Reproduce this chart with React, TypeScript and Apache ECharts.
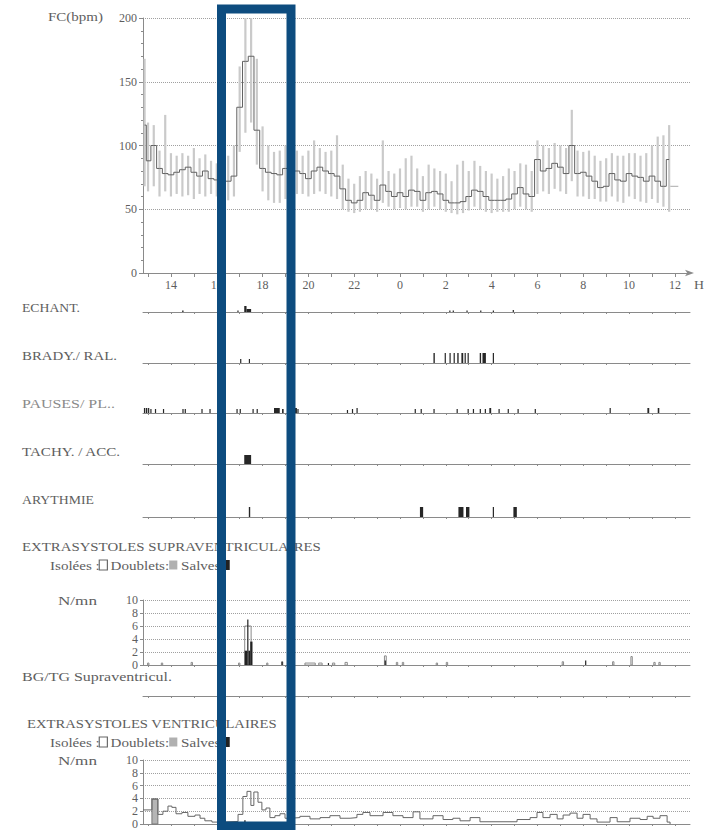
import React, { useEffect, useRef } from "react";
import * as echarts from "echarts";

// ---------- axis / time data ----------
const HOUR_MIN = 12.78;
const HOUR_MAX = 36.66;
const hourTicks = [13, 14, 15, 16, 17, 18, 19, 20, 21, 22, 23, 24, 25, 26, 27, 28, 29, 30, 31, 32, 33, 34, 35, 36];
const hourLabels = [14, 16, 18, 20, 22, 24, 26, 28, 30, 32, 34, 36];

// ---------- heart rate (bpm) ----------
const hrHours = [
  12.85, 13.0, 13.25, 13.5, 13.75, 14.0, 14.25, 14.5, 14.75, 15.0,
  15.25, 15.5, 15.75, 16.0, 16.25, 16.5, 16.75, 17.0, 17.25, 17.5,
  17.75, 18.0, 18.25, 18.5, 18.75, 19.0, 19.25, 19.5, 19.75, 20.0,
  20.25, 20.5, 20.75, 21.0, 21.25, 21.5, 21.75, 22.0, 22.25, 22.5,
  22.75, 23.0, 23.25, 23.5, 23.75, 24.0, 24.25, 24.5, 24.75, 25.0,
  25.25, 25.5, 25.75, 26.0, 26.25, 26.5, 26.75, 27.0, 27.25, 27.5,
  27.75, 28.0, 28.25, 28.5, 28.75, 29.0, 29.25, 29.5, 29.75, 30.0,
  30.25, 30.5, 30.75, 31.0, 31.25, 31.5, 31.75, 32.0, 32.25, 32.5,
  32.75, 33.0, 33.25, 33.5, 33.75, 34.0, 34.25, 34.5, 34.75, 35.0,
  35.25, 35.5, 35.75,
];
const hrMean = [
  116, 88, 100, 82, 78, 77, 79, 81, 83, 79,
  76, 80, 74, 73, 76, 72, 76, 130, 166, 170,
  112, 82, 79, 78, 77, 82, 80, 80, 78, 74,
  80, 83, 80, 78, 76, 66, 57, 55, 57, 63,
  61, 57, 69, 64, 60, 63, 60, 65, 64, 57,
  63, 64, 62, 57, 55, 55, 56, 60, 65, 64,
  60, 57, 57, 57, 58, 62, 67, 62, 60, 89,
  80, 82, 86, 83, 78, 100, 78, 79, 76, 72,
  67, 68, 78, 73, 72, 78, 76, 75, 72, 76,
  72, 68, 89,
];
const hrMin = [
  68, 64, 68, 60, 64, 60, 62, 60, 61, 58,
  62, 60, 62, 60, 60, 57, 60, 95, 110, 118,
  85, 64, 57, 55, 55, 58, 60, 62, 62, 60,
  62, 64, 62, 60, 58, 50, 48, 47, 48, 50,
  50, 48, 55, 52, 50, 51, 50, 52, 52, 48,
  50, 52, 50, 48, 47, 46, 47, 49, 52, 50,
  48, 47, 48, 48, 48, 50, 52, 50, 48, 62,
  64, 62, 66, 64, 62, 72, 60, 60, 58, 58,
  56, 56, 60, 56, 55, 60, 58, 56, 55, 58,
  55, 52, 48,
];
const hrMax = [
  168, 118, 116, 96, 124, 94, 92, 94, 92, 98,
  90, 93, 88, 86, 90, 92, 100, 162, 200, 200,
  168, 115, 100, 95, 96, 100, 95, 96, 92, 96,
  104, 98, 95, 96, 108, 85, 74, 70, 76, 80,
  78, 74, 104, 80, 78, 82, 90, 92, 82, 76,
  85, 82, 80, 78, 72, 85, 88, 80, 88, 84,
  80, 78, 74, 76, 82, 80, 86, 85, 80, 104,
  100, 98, 102, 100, 98, 128, 96, 95, 96, 92,
  88, 90, 94, 92, 92, 94, 94, 92, 94, 100,
  107, 108, 116,
];
const hrTailHours = [35.8, 36.15];
const hrTailValues = [68, 68];

// ---------- event rows: [start hour, end hour, mark height] ----------
const echantEvents = [
  [14.49, 14.55, 1.5], [16.9, 16.95, 1.5], [17.2, 17.3, 6], [17.3, 17.5, 3],
  [26.15, 26.2, 1.5], [26.3, 26.35, 1.5], [26.9, 26.95, 1.5], [27.5, 27.55, 1.5],
  [28.05, 28.1, 1.5], [28.92, 28.97, 2],
];
const bradyEvents = [
  [17.02, 17.07, 4], [17.4, 17.45, 4],
  [25.46, 25.52, 10], [25.95, 26.0, 10], [26.16, 26.21, 10], [26.34, 26.39, 10],
  [26.5, 26.56, 10], [26.68, 26.76, 10], [26.82, 26.87, 10], [26.95, 27.0, 10],
  [27.48, 27.54, 10], [27.6, 27.75, 10], [28.05, 28.1, 10],
];
const pauseEvents = [
  [12.82, 12.87, 5], [12.9, 12.97, 5], [13.0, 13.05, 5], [13.1, 13.14, 4],
  [13.3, 13.34, 4], [13.65, 13.69, 4], [14.5, 14.54, 4], [14.6, 14.64, 4],
  [15.33, 15.37, 4], [15.68, 15.72, 4], [16.86, 16.9, 4], [17.0, 17.04, 4],
  [17.56, 17.6, 4], [17.74, 17.78, 4], [18.5, 18.75, 5], [18.85, 18.92, 4],
  [19.38, 19.5, 5], [19.52, 19.56, 4], [21.68, 21.72, 3], [21.9, 21.94, 4],
  [22.1, 22.15, 5], [24.64, 24.68, 4], [24.9, 24.94, 4], [25.46, 25.5, 4],
  [26.47, 26.51, 4], [26.95, 26.99, 4], [27.18, 27.22, 4], [27.48, 27.52, 4],
  [27.7, 27.74, 4], [27.9, 27.98, 5], [28.3, 28.34, 4], [28.7, 28.74, 4],
  [29.13, 29.17, 4], [29.88, 29.92, 4], [33.15, 33.19, 5], [34.8, 34.88, 5],
  [35.25, 35.32, 5],
];
const tachyEvents = [[17.2, 17.5, 9]];
const arythmieEvents = [
  [17.4, 17.46, 10], [24.87, 25.01, 10], [26.55, 26.77, 10], [26.88, 27.03, 10],
  [28.05, 28.1, 10], [28.95, 29.1, 10],
];

// ---------- supraventricular extrasystoles (N/mn): [start, end, value] ----------
const essvIsolees = [
  [12.98, 13.04, 0.3], [13.58, 13.64, 0.3], [14.88, 14.94, 0.4], [16.95, 17.01, 0.3],
  [17.22, 17.5, 6], [18.18, 18.22, 0.3], [18.83, 18.88, 0.5], [19.85, 20.3, 0.3],
  [20.45, 20.6, 0.3], [21.05, 21.15, 0.3], [21.6, 21.7, 0.4], [23.32, 23.4, 1.4],
  [23.84, 23.9, 0.4], [24.1, 24.16, 0.4], [25.58, 25.64, 0.3], [26.02, 26.08, 0.4],
  [31.08, 31.14, 0.5], [33.28, 33.34, 0.5], [34.08, 34.14, 1.3], [35.08, 35.14, 0.4],
  [35.3, 35.36, 0.4],
];
const essvSalves = [
  [17.22, 17.33, 2.2], [17.33, 17.38, 7], [17.38, 17.46, 2.2], [17.46, 17.56, 3.6],
  [18.83, 18.87, 0.5], [20.85, 20.9, 0.3], [23.33, 23.38, 0.7], [32.08, 32.13, 0.7],
];

// ---------- ventricular extrasystoles (N/mn) ----------
const esvHours = [
  12.78, 13.17, 13.43, 13.65, 13.87, 14.04, 14.22, 14.48, 14.74, 15.05,
  15.27, 15.48, 15.79, 16.14, 16.93, 17.14, 17.32, 17.49, 17.62, 17.8,
  17.97, 18.15, 18.32, 18.54, 18.76, 18.98, 19.2, 19.63, 20.07, 20.51,
  20.94, 21.38, 21.82, 22.12, 22.38, 22.69, 23.26, 23.69, 24.13, 24.57,
  24.87, 25.44, 25.88, 26.31, 26.62, 27.06, 27.49, 29.11, 29.68, 29.98,
  30.24, 30.55, 30.86, 31.12, 31.42, 31.73, 31.99, 32.3, 32.6, 33.17,
  33.48, 34.04, 34.48, 34.79, 35.05, 35.35, 35.66, 35.79,
];
const esvCounts = [
  2.2, 3.9, 1.5, 2.0, 2.8, 2.6, 1.6, 1.8, 1.2, 1.4,
  0.9, 0.5, 0.3, 0.4, 1.5, 4.3, 5.1, 2.9, 5.0, 3.4,
  2.2, 2.5, 1.0, 1.3, 1.6, 0.9, 1.0, 1.2, 0.8, 1.0,
  1.3, 0.9, 1.0, 1.5, 1.8, 1.3, 1.8, 1.3, 1.0, 1.9,
  0.8, 1.3, 0.7, 0.9, 0.5, 1.0, 0.35, 0.7, 1.0, 1.8,
  1.0, 1.5, 0.8, 1.4, 1.7, 0.9, 1.5, 0.8, 0.3, 1.0,
  0.35, 0.9, 0.7, 1.2, 0.9, 1.3, 0.3, 0,
];
const esvDoublets = [[13.17, 13.43, 3.9]];
const esvSalves = [[17.2, 17.26, 0.6]];

// ---------- labels ----------
const rowLabels = ["ECHANT.", "BRADY./ RAL.", "PAUSES/ PL..", "TACHY. / ACC.", "ARYTHMIE"];
const legendText = "Isolées :{b|} Doublets:{g|} Salves{k|}";

const FONT_NAME = "Liberation Serif";
const FONT = "'Liberation Serif', 'DejaVu Serif', serif";
const TXT = "#5e5e5e";
const AX = "#8a8a8a";

const LEFT = 143;
const WIDTH = 547;

const gridDefs = [
  { top: 18, height: 255 }, // HR
  { top: 300, height: 12 }, // echant
  { top: 351, height: 12 }, // brady
  { top: 401, height: 12 }, // pauses
  { top: 452, height: 12 }, // tachy
  { top: 505, height: 12 }, // arythmie
  { top: 600, height: 65 }, // essv
  { top: 684, height: 12 }, // bg/tg
  { top: 760, height: 65 }, // esv
];

let measureCtx: CanvasRenderingContext2D | null = null;
function textWidth(text: string, size: number) {
  if (!measureCtx) measureCtx = document.createElement("canvas").getContext("2d");
  if (!measureCtx) return 0;
  measureCtx.font = `${size}px '${FONT_NAME}'`;
  return measureCtx.measureText(text).width;
}

function rectRenderer(fill: string, stroke: string | null, lw = 1) {
  return (params: any, api: any) => {
    const s = api.coord([api.value(0), api.value(2)]);
    const e = api.coord([api.value(1), 0]);
    const w = Math.max(e[0] - s[0], 1.2);
    return {
      type: "rect",
      shape: { x: s[0], y: s[1], width: w, height: e[1] - s[1] },
      style: stroke ? { fill, stroke, lineWidth: lw } : { fill },
    };
  };
}

function xAxisFor(i: number) {
  const isTop = i === 0;
  return {
    type: "value",
    gridIndex: i,
    min: HOUR_MIN,
    max: HOUR_MAX,
    axisLine: {
      show: true,
      lineStyle: { color: AX, width: 1 },
      symbol: isTop ? ["none", "arrow"] : ["none", "none"],
      symbolSize: [5, 9],
      symbolOffset: [0, 4],
    },
    axisTick: {
      show: true,
      length: isTop ? 4 : 2,
      customValues: hourTicks,
      lineStyle: { color: AX },
    },
    axisLabel: {
      show: isTop,
      customValues: hourLabels,
      formatter: (v: number) => String(Math.round(v) % 24),
      color: TXT,
      fontSize: 12,
      fontFamily: FONT,
      margin: 6,
    },
    splitLine: { show: false },
  };
}

function countAxis(i: number) {
  return {
    type: "value",
    gridIndex: i,
    min: 0,
    max: 10,
    interval: 2,
    axisLine: { show: true, lineStyle: { color: AX } },
    axisTick: { show: true, length: 3, lineStyle: { color: AX } },
    axisLabel: { color: TXT, fontSize: 12, fontFamily: FONT, margin: 5 },
    splitLine: { show: true, lineStyle: { type: "dotted", color: "#a0a0a0" } },
  };
}

export default function App() {
  const ref = useRef<HTMLDivElement>(null);

  useEffect(() => {
    if (!ref.current) return;
    const chart = echarts.init(ref.current, null, { renderer: "svg" });

    const grids = gridDefs.map((g) => ({ left: LEFT, width: WIDTH, top: g.top, height: g.height }));
    const xAxes = gridDefs.map((_, i) => xAxisFor(i));
    const yAxes: any[] = gridDefs.map((_, i) => {
      if (i === 0) {
        return {
          type: "value",
          gridIndex: 0,
          min: 0,
          max: 200,
          interval: 50,
          axisLine: { show: true, lineStyle: { color: AX } },
          axisTick: { show: true, length: 4, lineStyle: { color: AX } },
          minorTick: { show: true, splitNumber: 5, length: 2, lineStyle: { color: AX } },
          axisLabel: { color: TXT, fontSize: 12, fontFamily: FONT, margin: 6 },
          splitLine: { show: true, lineStyle: { type: "dotted", color: "#a0a0a0" } },
        };
      }
      if (i === 6 || i === 8) return countAxis(i);
      return { type: "value", gridIndex: i, min: 0, max: 12, show: false };
    });

    const eventRows = [echantEvents, bradyEvents, pauseEvents, tachyEvents, arythmieEvents];

    const series: any[] = [
      {
        type: "custom",
        xAxisIndex: 0,
        yAxisIndex: 0,
        clip: false,
        encode: { x: 0, y: [1, 2] },
        data: hrHours.map((t, i) => [t, hrMin[i], hrMax[i]]),
        renderItem: (params: any, api: any) => {
          const a = api.coord([api.value(0), api.value(1)]);
          const b = api.coord([api.value(0), api.value(2)]);
          return {
            type: "line",
            shape: { x1: a[0], y1: a[1], x2: b[0], y2: b[1] },
            style: { stroke: "#cacaca", lineWidth: 2.2 },
          };
        },
      },
      {
        type: "line",
        xAxisIndex: 0,
        yAxisIndex: 0,
        step: "middle",
        symbol: "none",
        data: hrHours.map((t, i) => [t, hrMean[i]]),
        lineStyle: { color: "#606060", width: 1 },
      },
      {
        type: "line",
        xAxisIndex: 0,
        yAxisIndex: 0,
        symbol: "none",
        data: hrTailHours.map((t, i) => [t, hrTailValues[i]]),
        lineStyle: { color: "#aaaaaa", width: 1 },
      },
    ];

    eventRows.forEach((rows, k) => {
      series.push({
        type: "custom",
        xAxisIndex: k + 1,
        yAxisIndex: k + 1,
        clip: false,
        encode: { x: [0, 1], y: 2 },
        data: rows,
        renderItem: rectRenderer("#262626", null),
      });
    });

    series.push({
      type: "custom",
      xAxisIndex: 6,
      yAxisIndex: 6,
      encode: { x: [0, 1], y: 2 },
      data: essvIsolees,
      renderItem: rectRenderer("rgba(0,0,0,0)", "#8a8a8a", 1),
    });
    series.push({
      type: "custom",
      xAxisIndex: 6,
      yAxisIndex: 6,
      encode: { x: [0, 1], y: 2 },
      data: essvSalves,
      renderItem: rectRenderer("#222222", null),
    });

    series.push({
      type: "custom",
      xAxisIndex: 8,
      yAxisIndex: 8,
      encode: { x: [0, 1], y: 2 },
      data: esvDoublets,
      renderItem: rectRenderer("#b5b5b5", "#777777", 1),
    });
    series.push({
      type: "line",
      xAxisIndex: 8,
      yAxisIndex: 8,
      step: "end",
      symbol: "none",
      data: esvHours.map((t, i) => [t, esvCounts[i]]),
      lineStyle: { color: "#666666", width: 1 },
    });
    series.push({
      type: "custom",
      xAxisIndex: 8,
      yAxisIndex: 8,
      encode: { x: [0, 1], y: 2 },
      data: esvSalves,
      renderItem: rectRenderer("#222222", null),
    });

    // text fitted horizontally to the width it has in the scanned report
    const txt = (text: string, x: number, y: number, size: number, targetW: number, extra: any = {}) => {
      const w = textWidth(text, size);
      const sx = w > 0 ? targetW / w : 1.15;
      return {
        type: "text",
        x,
        y,
        scaleX: sx,
        z: 50,
        style: { text, fill: TXT, font: `${size}px ${FONT}`, verticalAlign: "middle", align: "left", ...extra },
      };
    };

    const legendRich = {
      b: { width: 6, height: 9, borderColor: "#666", borderWidth: 1, backgroundColor: "#fff" },
      g: { width: 7, height: 9, backgroundColor: "#b0b0b0" },
      k: { width: 8, height: 10, backgroundColor: "#222" },
    };
    const legend = (y: number) => ({
      type: "text",
      x: 50,
      y,
      scaleX: 1.16,
      z: 50,
      style: { text: legendText, fill: TXT, font: `13px ${FONT}`, verticalAlign: "middle", align: "left", rich: legendRich },
    });

    const graphic: any[] = [
      txt("FC(bpm)", 48, 17, 12, 55),
      txt("H", 694, 285, 13, 10),
      txt(rowLabels[0], 22, 308, 12, 58),
      txt(rowLabels[1], 22, 356, 12, 95),
      txt(rowLabels[2], 22, 404, 12, 93, { fill: "#8a8a8a" }),
      txt(rowLabels[3], 22, 452, 12, 99),
      txt(rowLabels[4], 22, 500, 12, 72),
      txt("EXTRASYSTOLES SUPRAVENTRICULAIRES", 22, 547, 13, 299),
      legend(565),
      txt("N/mn", 58, 601, 12, 39),
      txt("BG/TG Supraventricul.", 22, 677, 12, 150),
      txt("EXTRASYSTOLES VENTRICULAIRES", 27, 724, 13, 250),
      legend(742),
      txt("N/mn", 58, 761, 12, 39),
      {
        type: "rect",
        z: 100,
        shape: { x: 221.5, y: 9, width: 69.5, height: 817 },
        style: { fill: "none", stroke: "#0d4c7f", lineWidth: 9 },
      },
    ];

    chart.setOption({
      animation: false,
      backgroundColor: "#ffffff",
      grid: grids,
      xAxis: xAxes,
      yAxis: yAxes,
      series,
      graphic: { elements: graphic },
    });

    return () => chart.dispose();
  }, []);

  return (
    <div
      ref={ref}
      style={{ position: "absolute", left: 0, top: 0, width: 712, height: 830, background: "#fff" }}
    />
  );
}
